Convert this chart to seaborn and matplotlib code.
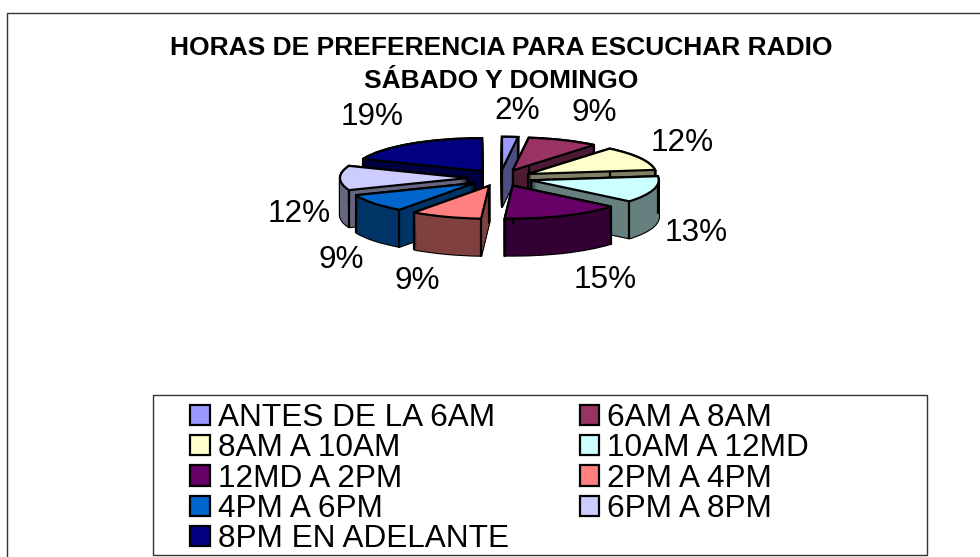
import numpy as np
from matplotlib import pyplot as plt
from matplotlib.patches import Rectangle
import seaborn as sns

# datos
categorias = ['ANTES DE LA 6AM', '6AM A 8AM', '8AM A 10AM', '10AM A 12MD', '12MD A 2PM',
              '2PM A 4PM', '4PM A 6PM', '6PM A 8PM', '8PM EN ADELANTE']
porcentajes = [2, 9, 12, 13, 15, 9, 9, 12, 19]
colores = ['#9999FF', '#993366', '#FFFFCC', '#CCFFFF', '#660066',
           '#FF8080', '#0066CC', '#CCCCFF', '#000080']
titulo = 'HORAS DE PREFERENCIA PARA ESCUCHAR RADIO\nSÁBADO Y DOMINGO'

sns.set_theme(style='white')
plt.rcParams['font.family'] = ['Liberation Sans', 'DejaVu Sans']

W, H = 980, 557
fig = plt.figure(figsize=(W / 100, H / 100), dpi=100)
paleta = sns.color_palette(colores)
oscuros = [tuple(c * 0.5 for c in col) for col in paleta]

# marcos
fig.add_artist(Rectangle((7 / W, -0.01), 1.0, 1 - 13 / H + 0.01, transform=fig.transFigure,
                         fill=False, ec='#333333', lw=1))
fig.add_artist(Rectangle((153 / W, 1 - 555 / H), 774 / W, 160 / H, transform=fig.transFigure,
                         fill=False, ec='#333333', lw=1))

fig.text(501 / W, 1 - 64.5 / H, titulo, ha='center', va='center', fontsize=19,
         fontweight='bold', color='black', linespacing=1.44)

# torta 3D: pilas de pies aplastados
rx, ry = 128, 33
cx, cy = 500, 178
ax = fig.add_axes([(cx - 2 * rx) / W, 1 - (cy + 4 * ry) / H, 4 * rx / W, 6 * ry / H])
explode = [0.25] * len(porcentajes)
prof = 37 / ry
capas = 36

acum = np.cumsum(porcentajes) - np.array(porcentajes) / 2
medio = np.radians(90 - acum * 3.6)
orden = np.argsort(np.argsort(-np.sin(medio)))

for k in range(capas, -1, -1):
    d = prof * k / capas
    # contorno negro
    negro, _ = ax.pie(porcentajes, explode=explode, startangle=90, counterclock=False,
                      center=(0, -d), colors=oscuros,
                      wedgeprops={'edgecolor': 'black', 'linewidth': 1.6})
    for i, w in enumerate(negro):
        w.set_zorder(10 * orden[i] + 1)
    relleno, _ = ax.pie(porcentajes, explode=explode, startangle=90, counterclock=False,
                        center=(0, -d), colors=oscuros,
                        wedgeprops={'edgecolor': 'none', 'linewidth': 0})
    for i, w in enumerate(relleno):
        w.set_zorder(10 * orden[i] + 2)

arriba, _ = ax.pie(porcentajes, explode=explode, startangle=90, counterclock=False,
                   colors=paleta, wedgeprops={'edgecolor': 'black', 'linewidth': 1.6})
for i, w in enumerate(arriba):
    w.set_zorder(10 * orden[i] + 4)
    # aristas verticales de cada porcion
    for ang in (w.theta1, w.theta2):
        a = np.radians(ang)
        x0 = w.center[0] + np.cos(a)
        y0 = w.center[1] + np.sin(a)
        ax.plot([x0, x0], [y0, y0 - prof], color='black', lw=1.6, zorder=10 * orden[i] + 3)
    ax.plot([w.center[0]] * 2, [w.center[1], w.center[1] - prof], color='black', lw=1.6,
            zorder=10 * orden[i] + 3)

ax.set_aspect('auto')
ax.set_xlim(-2, 2)
ax.set_ylim(-4, 2)
ax.axis('off')

# etiquetas de porcentaje
pos_etiq = [(517, 111), (594, 113), (682, 143), (696, 233), (605, 280),
            (417, 281), (341, 260), (299, 214), (372, 117)]
for p, (x, y) in zip(porcentajes, pos_etiq):
    fig.text(x / W, 1 - y / H, f'{p}%', ha='center', va='center', fontsize=22.7, color='black')

# leyenda, se llena por columnas
idx = list(range(0, 9, 2)) + list(range(1, 9, 2))
leg = fig.legend([arriba[i] for i in idx], [categorias[i] for i in idx], ncol=2,
                 loc='upper left', bbox_to_anchor=(190 / W, 1 - 403 / H), frameon=False,
                 fontsize=22.7, handlelength=0.62, handleheight=0.62, handletextpad=0.26,
                 columnspacing=2.25, labelspacing=0.01, borderpad=0, borderaxespad=0)
for t in leg.get_texts():
    t.set_color('black')

fig.savefig('out.png', dpi=100)
